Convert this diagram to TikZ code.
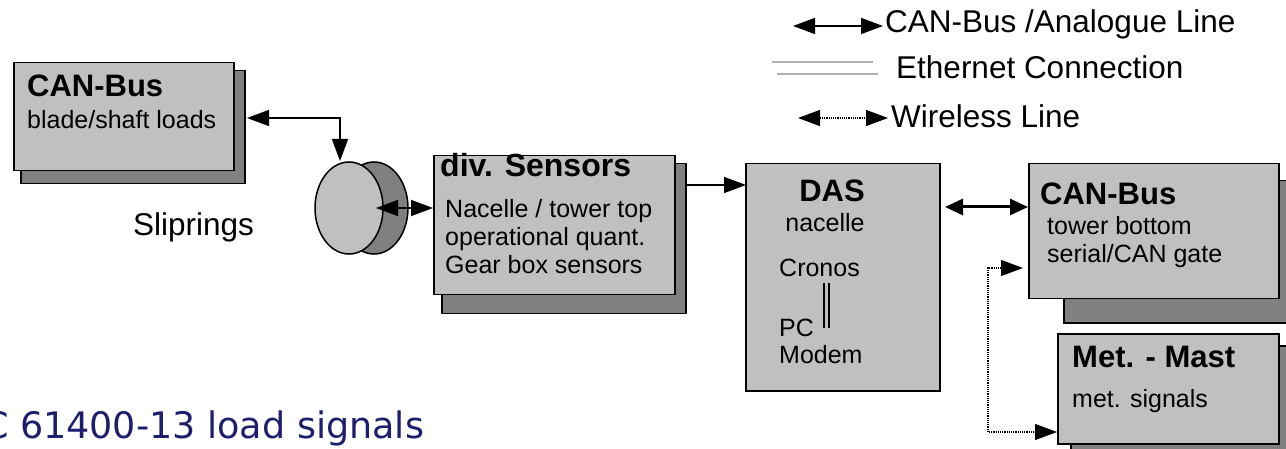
\documentclass[tikz,border=0pt]{standalone}
\usepackage{fontspec}
\setmainfont{Liberation Sans}
\newfontfamily\slidefont{DejaVu Sans}
\usetikzlibrary{arrows.meta}
\definecolor{boxgrey}{RGB}{192,192,192}
\definecolor{shadowgrey}{RGB}{128,128,128}
\definecolor{slidenavy}{RGB}{30,30,110}
\definecolor{ethgrey}{RGB}{175,175,175}
\begin{document}
\begin{tikzpicture}[x=1pt,y=-1pt,
  box/.style={draw=black,line width=1.5pt,fill=boxgrey,anchor=north west,inner sep=0pt},
  shadowbox/.style={draw=black,line width=1.5pt,fill=shadowgrey,anchor=north west,inner sep=0pt},
  title/.style={font=\fontsize{31}{36}\selectfont\bfseries,anchor=base west,inner sep=0pt},
  body/.style={font=\fontsize{25}{30}\selectfont,anchor=base west,inner sep=0pt},
  legendtext/.style={font=\fontsize{31.5}{36}\selectfont,anchor=base west,inner sep=0pt},
  link/.style={line width=1.5pt,{Triangle[length=22pt,width=16pt]}-{Triangle[length=22pt,width=16pt]}},
  oneway/.style={line width=1.5pt,-{Triangle[length=22pt,width=16pt]}},
  fatlink/.style={line width=3pt,{Triangle[length=18pt,width=16pt]}-{Triangle[length=18pt,width=16pt]}},
  wireless/.style={line width=1.2pt,densely dotted,{Triangle[length=22pt,width=16pt]}-{Triangle[length=22pt,width=16pt]}}
]
\useasboundingbox (0,0) rectangle (1286,449);

% ---- legend ----
\coordinate (lgA1) at (793,26);
\coordinate (lgA2) at (883,26);
\draw[link] (lgA1) -- (lgA2);
\node[legendtext] (lgcan) at (885,33) {CAN-Bus /Analogue Line};
\coordinate (lgE1) at (772,62);
\coordinate (lgE2) at (873,62);
\coordinate (lgE3) at (777,74);
\coordinate (lgE4) at (878,74);
\draw[ethgrey,line width=1.8pt] (lgE1) -- (lgE2);
\draw[ethgrey,line width=1.8pt] (lgE3) -- (lgE4);
\node[legendtext] (lgeth) at (896,79) {Ethernet Connection};
\coordinate (lgW1) at (798,118);
\coordinate (lgW2) at (888,118);
\draw[wireless] (lgW1) -- (lgW2);
\node[legendtext] (lgwl) at (891,128) {Wireless Line};

% ---- rotor CAN-Bus ----
\node[shadowbox,minimum width=224,minimum height=113] (cb1s) at (20,70) {};
\node[box,minimum width=220,minimum height=108] (cb1) at (13,62) {};
\node[title] (cb1t) at (27,97) {CAN-Bus};
\node[body] (cb1b) at (27,129) {blade/shaft loads};

% ---- sliprings ----
\draw[line width=1.5pt,fill=shadowgrey] (374,208) ellipse [x radius=34,y radius=46];
\draw[line width=1.5pt,fill=boxgrey] (349,208) ellipse [x radius=34,y radius=46];
\coordinate (slip) at (349,208);
\coordinate (sliptop) at (340,161);
\coordinate (slipaxis) at (376,208);
\node[font=\fontsize{31.5}{36}\selectfont,anchor=base west,inner sep=0pt] (sliplabel) at (133,236) {Sliprings};

% ---- nacelle sensors ----
\node[shadowbox,minimum width=244,minimum height=150] (sens) at (441,163) {};
\node[box,minimum width=241,minimum height=139] (sen) at (433,155) {};
\node[title,font=\fontsize{32}{36}\selectfont\bfseries] (sent) at (440,177) {div. Sensors};
\node[body] (senb1) at (445,218) {Nacelle / tower top};
\node[body] (senb2) at (445,246) {operational quant.};
\node[body] (senb3) at (445,274) {Gear box sensors};

% ---- DAS ----
\node[box,minimum width=194,minimum height=227] (das) at (745,163) {};
\node[title,anchor=base] (dast) at (832,202) {DAS};
\node[body,anchor=base] (dasn) at (825,232) {nacelle};
\node[body] (dascr) at (779,277) {Cronos};
\node[body] (daspc) at (779,336) {PC};
\node[body] (dasmd) at (779,363) {Modem};
\coordinate (eth1a) at (824,283);
\coordinate (eth1b) at (824,328);
\coordinate (eth2a) at (829,283);
\coordinate (eth2b) at (829,328);
\draw[line width=1.5pt] (eth1a) -- (eth1b);
\draw[line width=1.5pt] (eth2a) -- (eth2b);

% ---- tower bottom CAN-Bus ----
\node[shadowbox,minimum width=240,minimum height=142] (cb2s) at (1063,180) {};
\node[box,minimum width=250,minimum height=135] (cb2) at (1028,163) {};
\node[title] (cb2t) at (1040,205) {CAN-Bus};
\node[body] (cb2b1) at (1047,235) {tower bottom};
\node[body] (cb2b2) at (1047,263) {serial/CAN gate};

% ---- met mast ----
\node[shadowbox,minimum width=230,minimum height=120] (mets) at (1070,345) {};
\node[box,minimum width=221,minimum height=110] (met) at (1057,333) {};
\node[title] (mett) at (1072,367) {Met. - Mast};
\node[body] (metb) at (1072,407) {met. signals};

% ---- connections ----
\coordinate (cb1in) at (247,118);
\draw[link] (cb1in) -| (sliptop);
\coordinate (senin) at (433,208);
\draw[link] (slipaxis) -- (senin);
\coordinate (senout) at (685,185);
\coordinate (dasin) at (746,185);
\draw[oneway] (senout) -- (dasin);
\coordinate (dasout) at (945,207);
\coordinate (cb2in) at (1028,207);
\draw[fatlink] (dasout) -- (cb2in);
\coordinate (cb2w) at (1023,268);
\coordinate (metw) at (1057,432);
\coordinate (wcorner) at (988,268);
\draw[wireless] (cb2w) -- (wcorner) |- (metw);

% ---- slide caption ----
\node[font=\slidefont\fontsize{36.5}{40}\selectfont,text=slidenavy,anchor=base west,inner sep=0pt] (caption) at (-51,438) {IEC 61400-13 load signals};
\end{tikzpicture}
\end{document}
